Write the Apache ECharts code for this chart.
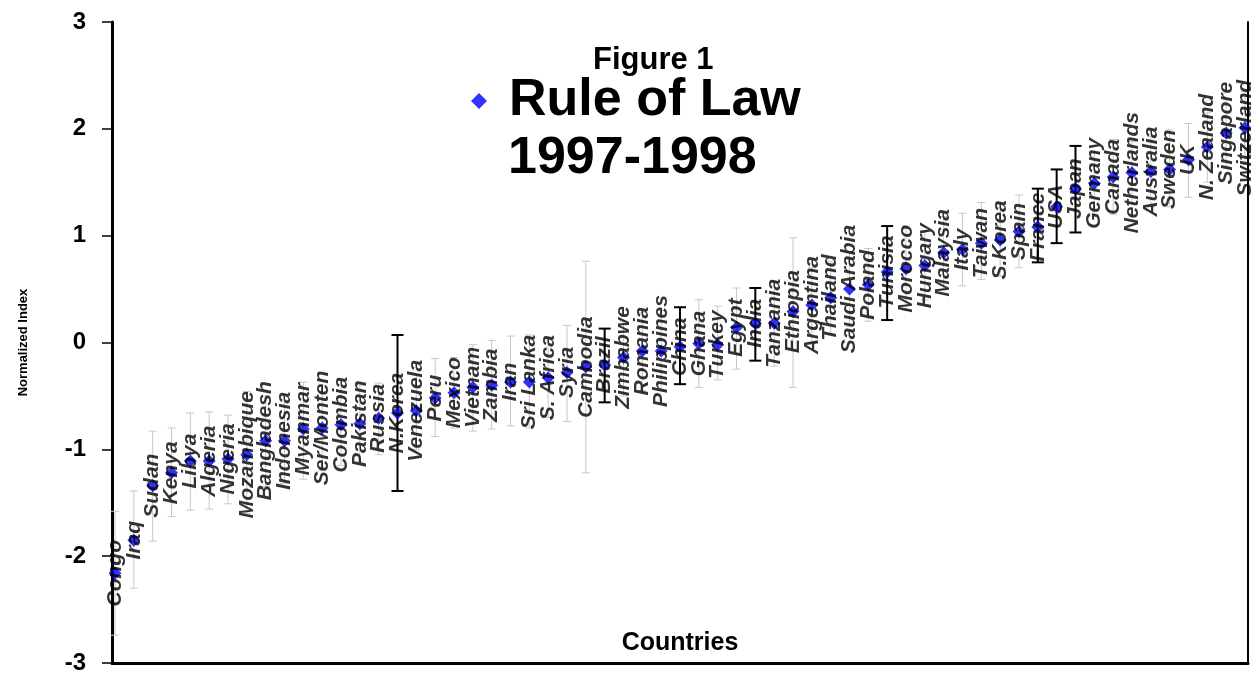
<!DOCTYPE html>
<html>
<head>
<meta charset="utf-8">
<script src="https://cdn.jsdelivr.net/npm/echarts@6/dist/echarts.min.js"></script>
<style>
  html, body { margin: 0; padding: 0; background: #fff; }
  #chart { width: 1251px; height: 679px; }
</style>
</head>
<body>
<div id="chart"></div>
<script>
const countries = ['Congo', 'Iraq', 'Sudan', 'Kenya', 'Libya', 'Algeria', 'Nigeria', 'Mozambique',
  'Bangladesh', 'Indonesia', 'Myanmar', 'Ser/Monten', 'Colombia', 'Pakistan', 'Russia', 'N.Korea',
  'Venezuela', 'Peru', 'Mexico', 'Vietnam', 'Zambia', 'Iran', 'Sri Lanka', 'S. Africa', 'Syria',
  'Cambodia', 'Brazil', 'Zimbabwe', 'Romania', 'Philippines', 'China', 'Ghana', 'Turkey', 'Egypt',
  'India', 'Tanzania', 'Ethiopia', 'Argentina', 'Thailand', 'Saudi Arabia', 'Poland', 'Tunisia',
  'Morocco', 'Hungary', 'Malaysia', 'Italy', 'Taiwan', 'S.Korea', 'Spain', 'France', 'USA', 'Japan',
  'Germany', 'Canada', 'Netherlands', 'Australia', 'Sweden', 'UK', 'N. Zealand', 'Singapore', 'Switzerland'];

const ruleOfLaw = [-2.16, -1.85, -1.34, -1.22, -1.11, -1.11, -1.09, -1.05,
  -0.92, -0.92, -0.81, -0.80, -0.77, -0.76, -0.71, -0.66,
  -0.64, -0.52, -0.47, -0.42, -0.40, -0.37, -0.37, -0.33, -0.28,
  -0.23, -0.21, -0.14, -0.08, -0.08, -0.04, -0.01, -0.02, 0.14,
  0.18, 0.18, 0.29, 0.35, 0.42, 0.50, 0.54, 0.66,
  0.69, 0.72, 0.84, 0.87, 0.93, 0.96, 1.04, 1.08, 1.27, 1.44,
  1.49, 1.55, 1.59, 1.60, 1.62, 1.71, 1.83, 1.96, 2.01];

const errLow = [-2.74, -2.30, -1.86, -1.63, -1.57, -1.56, -1.51, -1.60,
  -1.35, -1.32, -1.28, -1.20, -1.15, -1.12, -1.05, -1.39,
  -1.00, -0.88, -0.80, -0.83, -0.81, -0.78, -0.80, -0.70, -0.74,
  -1.22, -0.56, -0.50, -0.45, -0.45, -0.39, -0.42, -0.35, -0.25,
  -0.17, -0.22, -0.42, 0.00, 0.08, 0.15, 0.20, 0.21,
  0.30, 0.40, 0.50, 0.53, 0.59, 0.62, 0.70, 0.75, 0.93, 1.03,
  1.20, 1.20, 1.30, 1.27, 1.27, 1.36, 1.50, 1.65, 1.67];

const errHigh = [-1.58, -1.39, -0.83, -0.80, -0.66, -0.65, -0.68, -0.46,
  -0.50, -0.55, -0.37, -0.40, -0.40, -0.40, -0.38, 0.07,
  -0.30, -0.15, -0.14, -0.02, 0.02, 0.06, 0.07, 0.05, 0.16,
  0.76, 0.13, 0.20, 0.28, 0.30, 0.33, 0.40, 0.34, 0.51,
  0.51, 0.57, 0.98, 0.70, 0.76, 0.85, 0.88, 1.09,
  1.09, 1.05, 1.18, 1.21, 1.31, 1.30, 1.38, 1.44, 1.62, 1.84,
  1.78, 1.90, 1.88, 1.93, 1.99, 2.05, 2.15, 2.28, 2.35];

// countries drawn with the dark error bars
const darkBars = ['N.Korea', 'Brazil', 'China', 'India', 'Tunisia', 'France', 'USA', 'Japan'];
// countries whose name is printed twice (upright copy over the italic one)
const doubleLabels = ['Indonesia', 'Russia', 'Mexico', 'Brazil', 'China', 'India', 'Poland',
  'Tunisia', 'France', 'Japan', 'Netherlands'];

const yTicks = [-3, -2, -1, 0, 1, 2, 3];

const FONT = 'Liberation Sans, Arial, sans-serif';
const PLOT_RIGHT = 1248;

const pointData = countries.map((c, i) => [i + 1, ruleOfLaw[i], c]);
const barData = countries.map((c, i) => [i + 1, errLow[i], errHigh[i], darkBars.includes(c) ? 1 : 0]);
const dupData = countries.map((c, i) => [i + 1, ruleOfLaw[i], c]).filter(d => doubleLabels.includes(d[2]));

function renderBar(params, api) {
  const x = api.value(0);
  const dark = api.value(3) === 1;
  const top = api.coord([x, api.value(2)]);
  const bot = api.coord([x, api.value(1)]);
  const w = dark ? 6 : 4;
  const style = { stroke: dark ? '#000' : '#c8c8c8', lineWidth: dark ? 2 : 1 };
  return {
    type: 'group',
    children: [
      { type: 'line', shape: { x1: top[0], y1: top[1], x2: bot[0], y2: bot[1] }, style: style },
      { type: 'line', shape: { x1: top[0] - w, y1: top[1], x2: top[0] + w, y2: top[1] }, style: style },
      { type: 'line', shape: { x1: bot[0] - w, y1: bot[1], x2: bot[0] + w, y2: bot[1] }, style: style }
    ]
  };
}

// keep labels inside the right border, as the original does
function keepInside(params) {
  const r = params.labelRect;
  const over = r.x + r.width - (PLOT_RIGHT - 3);
  return over > 0 ? { dx: -over } : {};
}

const chart = echarts.init(document.getElementById('chart'), null, { renderer: 'canvas' });
chart.setOption({
  animation: false,
  backgroundColor: '#fff',
  textStyle: { fontFamily: FONT },
  title: [
    { text: 'Figure 1', left: 588, top: 40,
      textStyle: { fontFamily: FONT, fontSize: 31, fontWeight: 'bold', color: '#000' } },
    { text: '1997-1998', left: 503, top: 128,
      textStyle: { fontFamily: FONT, fontSize: 52, fontWeight: 'bold', color: '#000' } }
  ],
  legend: {
    data: [{ name: 'Rule of Law', icon: 'diamond' }],
    left: 466, top: 70,
    itemWidth: 16, itemHeight: 16,
    textStyle: { fontFamily: FONT, fontSize: 52, fontWeight: 'bold', color: '#000', padding: [0, 0, 0, 17] }
  },
  grid: { left: 112, right: 3, top: 22, bottom: 16 },
  xAxis: {
    type: 'value', min: 0.84, max: 61.16,
    name: 'Countries', nameLocation: 'middle', nameGap: -32,
    nameTextStyle: { fontFamily: FONT, fontSize: 25, fontWeight: 'bold', color: '#000' },
    axisLine: { show: true, onZero: false, lineStyle: { color: '#000', width: 3 } },
    axisTick: { show: false }, axisLabel: { show: false }, splitLine: { show: false }
  },
  yAxis: [{
    type: 'value', min: yTicks[0], max: yTicks[yTicks.length - 1], interval: 1,
    name: 'Normalized Index', nameLocation: 'middle', nameGap: 82, nameRotate: 90,
    nameTextStyle: { fontFamily: FONT, fontSize: 13, fontWeight: 'bold', color: '#000' },
    axisLine: { show: true, lineStyle: { color: '#000', width: 3 } },
    axisTick: { show: true, length: 10, lineStyle: { color: '#000', width: 1.5 } },
    axisLabel: { margin: 26, fontFamily: FONT, fontSize: 24, fontWeight: 'bold', color: '#000' },
    splitLine: { show: false }
  }, {
    type: 'value', position: 'right', min: yTicks[0], max: yTicks[yTicks.length - 1], interval: 1,
    axisLine: { show: true, lineStyle: { color: '#000', width: 2 } },
    axisTick: { show: false }, axisLabel: { show: false }, splitLine: { show: false }
  }],
  series: [
    {
      type: 'custom', name: 'errors', renderItem: renderBar, data: barData,
      encode: { x: 0, y: [1, 2] }, silent: true, z: 1
    },
    {
      type: 'scatter', name: 'Rule of Law', data: pointData,
      symbol: 'diamond', symbolSize: 13, z: 3,
      itemStyle: { color: '#0000ff' },
      labelLayout: keepInside,
      label: {
        show: true, position: 'inside', rotate: 90,
        formatter: p => p.data[2],
        fontFamily: FONT, fontSize: 21, fontStyle: 'italic', fontWeight: 'bold', color: '#000'
      }
    },
    {
      type: 'scatter', name: 'dup', data: dupData,
      symbol: 'none', symbolSize: 1, z: 4, silent: true,
      label: {
        show: true, position: 'inside', rotate: 90, offset: [0, -4],
        formatter: p => p.data[2],
        fontFamily: FONT, fontSize: 21, fontWeight: 'bold', color: '#000'
      }
    }
  ]
});
</script>
</body>
</html>
